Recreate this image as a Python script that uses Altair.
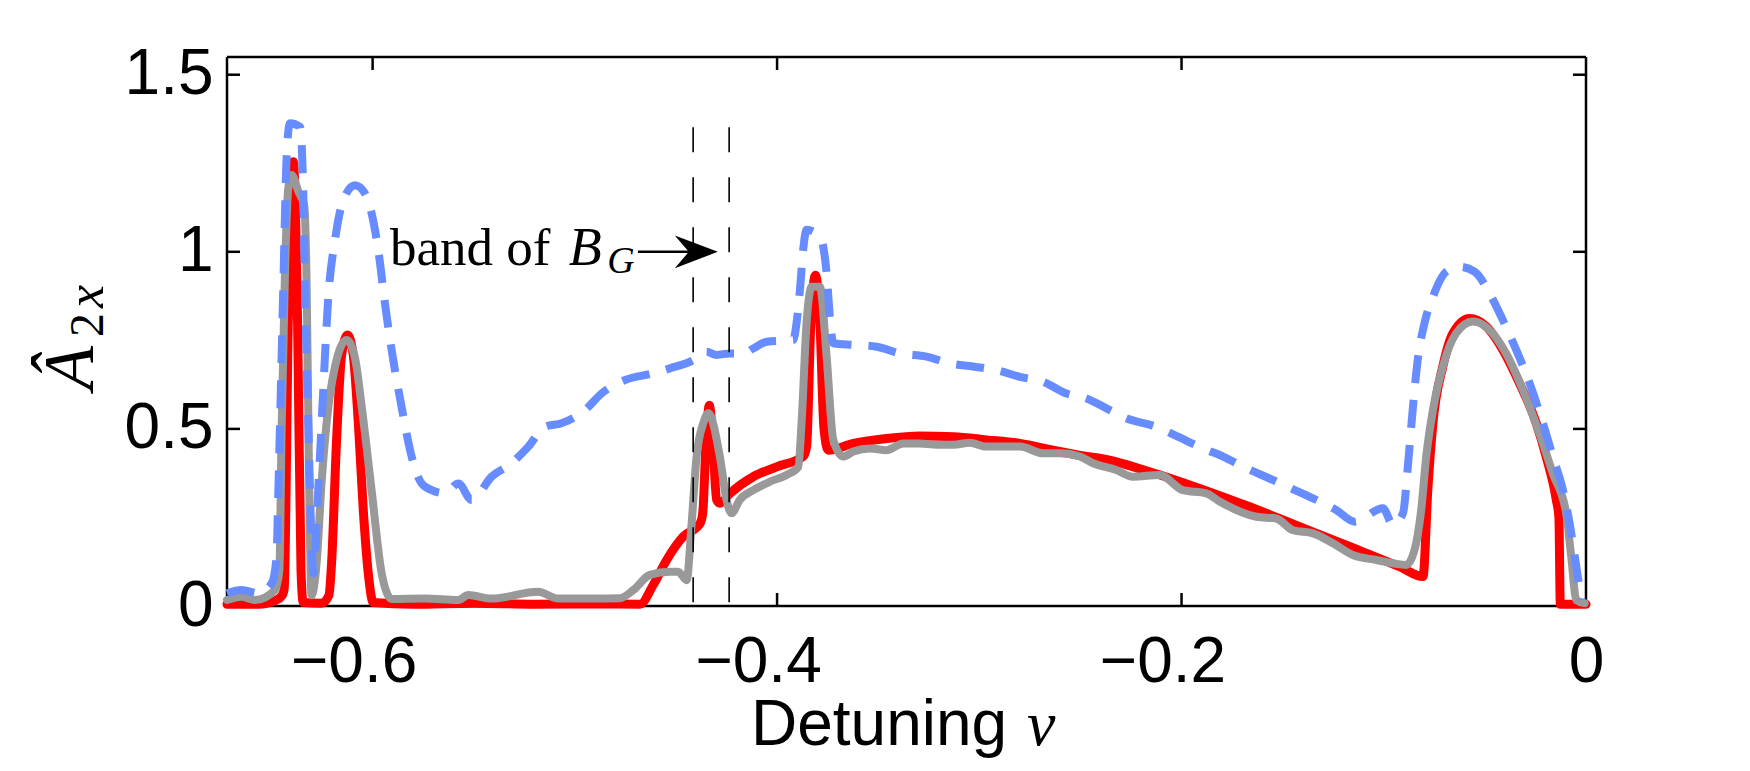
import altair as alt
import pandas as pd

W, H = 1359, 549
XMIN, XMAX = -0.672, 0.0
YMIN, YMAX = 0.0, 1.55

x_tick_values = [-0.6, -0.4, -0.2, 0.0]
y_tick_values = [0.0, 0.5, 1.0, 1.5]
x_inner_ticks = [-0.6, -0.4, -0.2]
y_inner_ticks = [0.5, 1.0, 1.5]

red_x = [-0.672, -0.6565, -0.6483, -0.6447, -0.6437, -0.6417, -0.6392, -0.6371, -0.6354, -0.6343,
         -0.6252, -0.6216, -0.6203, -0.6178, -0.6153, -0.6124, -0.6096, -0.6071, -0.6046, -0.6021,
         -0.5997, -0.58, -0.55, -0.52, -0.49, -0.4678, -0.4612, -0.4546, -0.4464, -0.4381,
         -0.4368, -0.4352, -0.4335, -0.4316, -0.4299, -0.4283, -0.4233, -0.4118, -0.4002, -0.3871,
         -0.3854, -0.3833, -0.3810, -0.3788, -0.3768, -0.3747, -0.3623, -0.3459, -0.3294, -0.3129,
         -0.2964, -0.2799, -0.2635, -0.2470, -0.2405, -0.2158, -0.1911, -0.1663, -0.1416, -0.1169,
         -0.0922, -0.0806, -0.0782, -0.0757, -0.0708, -0.0658, -0.0576, -0.0493, -0.0411, -0.0329,
         -0.0246, -0.0197, -0.0147, -0.0134, -0.0127, 0.0]
red_y = [0.005, 0.005, 0.015, 0.03, 0.05, 0.8, 1.254, 0.8, 0.1, 0.01,
         0.008, 0.03, 0.12, 0.47, 0.71, 0.765, 0.71, 0.52, 0.27, 0.09,
         0.01, 0.005, 0.008, 0.005, 0.006, 0.005, 0.06, 0.13, 0.196, 0.233,
         0.26, 0.45, 0.567, 0.45, 0.30, 0.29, 0.318, 0.365, 0.393, 0.422,
         0.45, 0.80, 0.934, 0.80, 0.50, 0.44, 0.459, 0.473, 0.480, 0.478,
         0.469, 0.459, 0.440, 0.422, 0.417, 0.379, 0.332, 0.280, 0.224, 0.168,
         0.111, 0.083, 0.33, 0.516, 0.676, 0.770, 0.812, 0.789, 0.723, 0.629,
         0.516, 0.422, 0.30, 0.25, 0.005, 0.005]

gray_x = [-0.672, -0.6648, -0.6582, -0.6483, -0.6461, -0.6450, -0.6433, -0.6417, -0.6400, -0.6367,
          -0.6338, -0.6326, -0.6315, -0.6302, -0.6277, -0.6252, -0.6227, -0.6186, -0.6128, -0.6087,
          -0.6054, -0.6005, -0.5955, -0.5906, -0.5741, -0.5576, -0.5527, -0.5412, -0.5181, -0.5082,
          -0.4917, -0.4777, -0.4711, -0.4629, -0.4530, -0.4489, -0.4447, -0.4423, -0.4398, -0.4365,
          -0.4340, -0.4283, -0.4250, -0.4225, -0.4184, -0.4118, -0.4035, -0.3953, -0.3895, -0.3879,
          -0.3854, -0.3829, -0.3788, -0.3755, -0.3722, -0.3673, -0.3623, -0.3541, -0.3459, -0.3376,
          -0.3294, -0.3211, -0.3129, -0.3047, -0.2964, -0.2799, -0.2684, -0.2602, -0.2503, -0.2437,
          -0.2323, -0.2240, -0.2108, -0.1993, -0.1878, -0.1812, -0.1630, -0.1532, -0.1449, -0.1350,
          -0.1251, -0.1153, -0.1037, -0.0889, -0.0848, -0.0815, -0.0790, -0.0757, -0.0708, -0.0642,
          -0.0559, -0.0477, -0.0395, -0.0312, -0.0230, -0.0164, -0.0098, -0.0073, -0.0048, -0.0007]
gray_y = [0.017, 0.026, 0.017, 0.045, 0.10, 0.5, 0.95, 1.18, 1.217, 1.17,
          1.13, 0.9, 0.4, 0.03, 0.12, 0.35, 0.52, 0.676, 0.751, 0.70,
          0.563, 0.327, 0.092, 0.02, 0.021, 0.017, 0.031, 0.021, 0.040, 0.021,
          0.021, 0.022, 0.045, 0.088, 0.097, 0.097, 0.073, 0.23, 0.422, 0.516,
          0.544, 0.422, 0.30, 0.262, 0.30, 0.327, 0.351, 0.370, 0.393, 0.516,
          0.80, 0.901, 0.901, 0.704, 0.469, 0.422, 0.436, 0.445, 0.440, 0.459,
          0.459, 0.455, 0.455, 0.461, 0.450, 0.450, 0.431, 0.431, 0.422, 0.403,
          0.384, 0.365, 0.370, 0.327, 0.318, 0.295, 0.252, 0.247, 0.214, 0.205,
          0.177, 0.144, 0.130, 0.116, 0.158, 0.271, 0.422, 0.553, 0.676, 0.770,
          0.803, 0.779, 0.713, 0.610, 0.487, 0.374, 0.262, 0.139, 0.017, 0.008]

blue_x = [-0.672, -0.6648, -0.6565, -0.6499, -0.6475, -0.6466, -0.6442, -0.6425, -0.6409, -0.6359,
          -0.6343, -0.6334, -0.6318, -0.6305, -0.6293, -0.6269, -0.6244, -0.6219, -0.6186, -0.6145,
          -0.6087, -0.6038, -0.6005, -0.5972, -0.5939, -0.5906, -0.5857, -0.5807, -0.5758, -0.5708,
          -0.5642, -0.5576, -0.5510, -0.5412, -0.5313, -0.5230, -0.5148, -0.5066, -0.4950, -0.4868,
          -0.4752, -0.4612, -0.4530, -0.4414, -0.4349, -0.4299, -0.4233, -0.4167, -0.4118, -0.4052,
          -0.3920, -0.3904, -0.3887, -0.3871, -0.3854, -0.3788, -0.3755, -0.3739, -0.3722, -0.3623,
          -0.3508, -0.3393, -0.3261, -0.3146, -0.3030, -0.2915, -0.2799, -0.2684, -0.2569, -0.2470,
          -0.2355, -0.2273, -0.2125, -0.2018, -0.1894, -0.1795, -0.1680, -0.1565, -0.1457, -0.1350,
          -0.1235, -0.1144, -0.1004, -0.0955, -0.0905, -0.0880, -0.0856, -0.0831, -0.0798, -0.0757,
          -0.0691, -0.0625, -0.0551, -0.0477, -0.0411, -0.0345, -0.0279, -0.0213, -0.0164, -0.0114,
          -0.0081, -0.0048, -0.0023]
blue_y = [0.036, 0.045, 0.036, 0.064, 0.139, 0.327, 0.892, 1.268, 1.363, 1.353,
          1.174, 0.892, 0.516, 0.233, 0.092, 0.327, 0.61, 0.873, 1.033, 1.146,
          1.188, 1.165, 1.109, 1.005, 0.854, 0.723, 0.563, 0.422, 0.346, 0.327,
          0.318, 0.346, 0.299, 0.365, 0.403, 0.450, 0.506, 0.516, 0.553, 0.600,
          0.638, 0.657, 0.671, 0.694, 0.718, 0.709, 0.713, 0.713, 0.727, 0.746,
          0.751, 0.798, 0.892, 1.005, 1.062, 1.043, 0.939, 0.817, 0.742, 0.737,
          0.732, 0.713, 0.704, 0.685, 0.676, 0.666, 0.647, 0.633, 0.600, 0.586,
          0.553, 0.530, 0.506, 0.478, 0.445, 0.422, 0.389, 0.360, 0.332, 0.304,
          0.271, 0.238, 0.276, 0.229, 0.262, 0.40, 0.56, 0.70, 0.80, 0.873,
          0.944, 0.958, 0.944, 0.883, 0.807, 0.723, 0.629, 0.516, 0.422, 0.327,
          0.233, 0.111, 0.017]

band_x = [-0.4415, -0.4237]
band_top = 1.352
arrow_start, arrow_shaft_end, arrow_tip, arrow_y = -0.4688, -0.4370, -0.4293, 1.0

xscale = alt.Scale(domain=[XMIN, XMAX], nice=False, zero=False)
yscale = alt.Scale(domain=[YMIN, YMAX], nice=False, zero=False)

x_axis = alt.Axis(
    values=x_tick_values, title="", domain=False, ticks=False, tickSize=0, grid=False,
    labelExpr="datum.value == 0 ? '0' : '\u2212' + format(-datum.value, '.1f')",
    labelFont="Liberation Sans", labelFontSize=64, labelColor="black",
    labelPadding=75, labelBaseline="alphabetic", labelFlush=False, labelOverlap=False,
    labelOffset={"condition": {"test": "datum.value < 0", "value": -19}, "value": 0},
)
y_axis = alt.Axis(
    values=y_tick_values, title="", domain=False, ticks=False, tickSize=0, grid=False,
    labelExpr="datum.value == 0 ? '0' : datum.value == 1 ? '1' : format(datum.value, '.1f')",
    labelFont="Liberation Sans", labelFontSize=64, labelColor="black",
    labelPadding=14, labelBaseline="middle", labelAlign="right", labelFlush=False, labelOverlap=False,
)


def Xf(field):
    return alt.X(f"{field}:Q", scale=xscale, axis=x_axis)


def Yf(field):
    return alt.Y(f"{field}:Q", scale=yscale, axis=y_axis)


def series(xs, ys):
    return pd.DataFrame({"x": xs, "y": ys, "i": list(range(len(xs)))})


one = pd.DataFrame({"k": [0]})
layers = []

# box border (drawn under the curves)
border = dict(color="black", strokeWidth=2.5)
layers.append(alt.Chart(one).mark_rule(**border).encode(x=alt.value(0), x2=alt.value(W), y=alt.value(0)))
layers.append(alt.Chart(one).mark_rule(**border).encode(x=alt.value(0), x2=alt.value(W), y=alt.value(H)))
layers.append(alt.Chart(one).mark_rule(**border).encode(x=alt.value(0), y=alt.value(0), y2=alt.value(H)))
layers.append(alt.Chart(one).mark_rule(**border).encode(x=alt.value(W), y=alt.value(0), y2=alt.value(H)))

# inward ticks
xt = pd.DataFrame({"x": x_inner_ticks})
yt = pd.DataFrame({"y": y_inner_ticks})
layers.append(alt.Chart(xt).mark_rule(**border).encode(x=Xf("x"), y=alt.value(H), y2=alt.value(H - 13)))
layers.append(alt.Chart(xt).mark_rule(**border).encode(x=Xf("x"), y=alt.value(0), y2=alt.value(13)))
layers.append(alt.Chart(yt).mark_rule(**border).encode(y=Yf("y"), x=alt.value(0), x2=alt.value(13)))
layers.append(alt.Chart(yt).mark_rule(**border).encode(y=Yf("y"), x=alt.value(W), x2=alt.value(W - 13)))

# curves
layers.append(alt.Chart(series(red_x, red_y)).mark_line(
    color="#FF0000", strokeWidth=9, interpolate="monotone", strokeJoin="round", strokeCap="round"
).encode(x=Xf("x"), y=Yf("y"), order="i:Q"))
layers.append(alt.Chart(series(gray_x, gray_y)).mark_line(
    color="#999999", strokeWidth=8, interpolate="monotone", strokeJoin="round", strokeCap="round"
).encode(x=Xf("x"), y=Yf("y"), order="i:Q"))
layers.append(alt.Chart(series(blue_x, blue_y)).mark_line(
    color="#668CFF", strokeWidth=8, interpolate="monotone", strokeDash=[28, 17], strokeCap="butt"
).encode(x=Xf("x"), y=Yf("y"), order="i:Q"))

# band of B_G dashed lines
band = pd.DataFrame({"x": band_x, "y1": [band_top] * 2, "y0": [0.0] * 2})
layers.append(alt.Chart(band).mark_rule(color="black", strokeWidth=1.6, strokeDash=[25, 25]).encode(
    x=Xf("x"), y=Yf("y1"), y2="y0:Q"))

# arrow
arr = pd.DataFrame({"x": [arrow_start], "x2": [arrow_shaft_end], "tip": [arrow_tip], "y": [arrow_y]})
layers.append(alt.Chart(arr).mark_rule(color="black", strokeWidth=2.5).encode(
    x=Xf("x"), x2="x2:Q", y=Yf("y")))
layers.append(alt.Chart(arr).mark_point(
    shape="M 0 0 L -2 -0.76 L -1.35 0 L -2 0.76 Z", filled=True, color="black", opacity=1,
    size=1849, strokeWidth=0
).encode(x=Xf("tip"), y=Yf("y")))

# annotation text "band of B_G"
ann = pd.DataFrame({"x": [-0.5914, -0.5030, -0.4840], "y": [0.963, 0.963, 0.940],
                    "t": ["band of", "B", "G"]})
layers.append(alt.Chart(ann.iloc[[0]]).mark_text(
    font="Liberation Serif", fontSize=53, align="left", baseline="alphabetic", color="black"
).encode(x=Xf("x"), y=Yf("y"), text="t:N"))
layers.append(alt.Chart(ann.iloc[[1]]).mark_text(
    font="Liberation Serif", fontStyle="italic", fontSize=54, align="left", baseline="alphabetic", color="black"
).encode(x=Xf("x"), y=Yf("y"), text="t:N"))
layers.append(alt.Chart(ann.iloc[[2]]).mark_text(
    font="Liberation Serif", fontStyle="italic", fontSize=38, align="left", baseline="alphabetic", color="black"
).encode(x=Xf("x"), y=Yf("y"), text="t:N"))

# y axis title  Â_{2x}
layers.append(alt.Chart(one).mark_text(
    text="Â", font="Liberation Serif", fontStyle="italic", fontSize=72, angle=270,
    align="left", baseline="alphabetic", color="black"
).encode(x=alt.value(-134), y=alt.value(333)))
layers.append(alt.Chart(one).mark_text(
    text="2", font="Liberation Serif", fontSize=48, angle=270,
    align="left", baseline="alphabetic", color="black"
).encode(x=alt.value(-124), y=alt.value(280)))
layers.append(alt.Chart(one).mark_text(
    text="x", font="Liberation Serif", fontStyle="italic", fontSize=52, angle=270,
    align="left", baseline="alphabetic", color="black"
).encode(x=alt.value(-124), y=alt.value(251)))

# x axis title  Detuning ν
layers.append(alt.Chart(one).mark_text(
    text="Detuning", font="Liberation Sans", fontSize=64, align="left", baseline="alphabetic", color="black"
).encode(x=alt.value(524), y=alt.value(688)))
layers.append(alt.Chart(one).mark_text(
    text="ν", font="Liberation Serif", fontStyle="italic", fontSize=64, align="left", baseline="alphabetic",
    color="black"
).encode(x=alt.value(800), y=alt.value(688)))

chart = alt.layer(*layers).properties(
    width=W, height=H,
    autosize=alt.AutoSizeParams(type="none"),
    padding={"left": 219, "top": 49, "right": 150, "bottom": 156},
    background="white",
).configure_view(strokeWidth=0)

chart.save("out.html", embed_options={"renderer": "svg", "actions": False})
